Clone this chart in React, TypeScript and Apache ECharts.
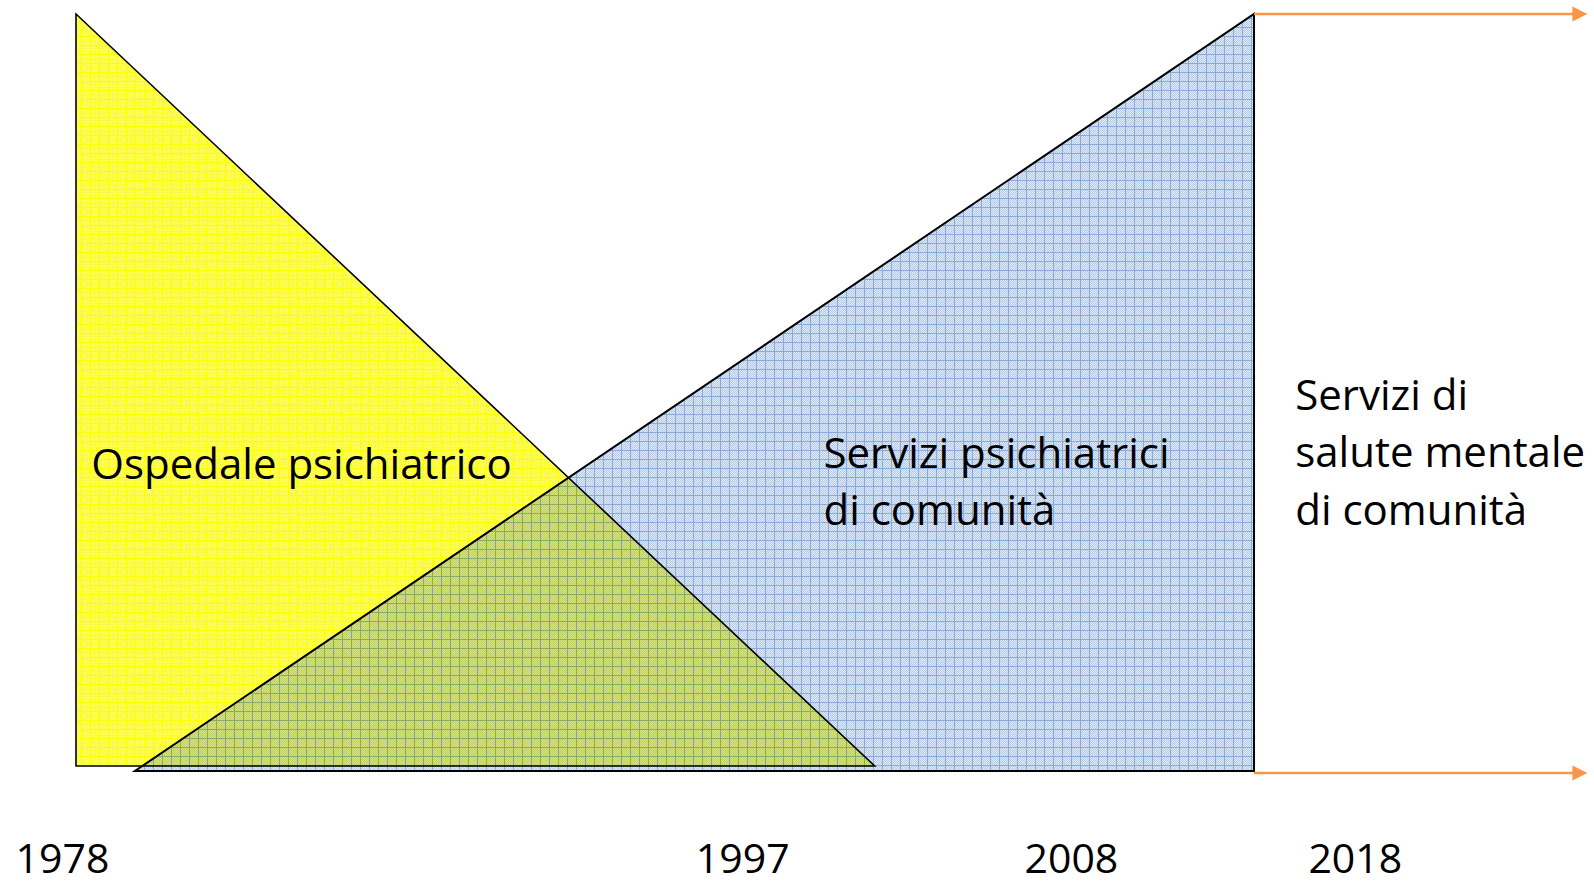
import React, { useEffect, useRef } from "react";
import * as echarts from "echarts";

// ---- Data (abstract timeline units: x 0 = start of 1978 block, 100 = end of community services block; y 0..100 = intensity) ----
const yellowX = [0, 0, 67.8];
const yellowY = [100, 0.66, 0.66];
const blueX = [5.0, 100, 100];
const blueY = [0, 0, 100];

const arrowStartX = [100, 100];
const arrowEndX = [128.3, 128.3];
const arrowY = [100, -0.25];

const yearLabels = ["1978", "1997", "2008", "2018"];
const yearX = [-1.15, 56.6, 84.5, 108.6];
const yearY = -11.4;

const textLines = [
  "Ospedale psichiatrico",
  "Servizi psichiatrici",
  "di comunità",
  "Servizi di",
  "salute mentale",
  "di comunità",
];
const textX = [1.3, 63.45, 63.45, 103.5, 103.5, 103.5];
const textY = [40.75, 42.2, 34.65, 49.84, 42.3, 34.7];

const FONT = "'Open Sans', Lato, sans-serif";

function makePattern(kind: "yellow" | "blue") {
  const c = document.createElement("canvas");
  const n = 9;
  c.width = n;
  c.height = n;
  const g = c.getContext("2d")!;
  for (let x = 0; x < n; x++) {
    for (let y = 0; y < n; y++) {
      const line = x === 0 || y === 0;
      let col: string;
      if (kind === "yellow") {
        col = line ? "#FFFF00" : (x + y) % 2 === 0 ? "#FFFF8C" : "#FFFF10";
      } else {
        col = line
          ? "rgba(40,100,190,0.55)"
          : (x + y) % 2 === 0
          ? "rgba(70,120,200,0.40)"
          : "rgba(120,160,220,0.22)";
      }
      g.fillStyle = col;
      g.fillRect(x, y, 1, 1);
    }
  }
  return { image: c, repeat: "repeat", imageWidth: n, imageHeight: n };
}

function polyRender(xs: number[], ys: number[], style: any) {
  return (params: any, api: any) => {
    const pts = xs.map((x, i) => api.coord([x, ys[i]]));
    return { type: "polygon", shape: { points: pts }, style };
  };
}

export default function App() {
  const ref = useRef<HTMLDivElement>(null);
  useEffect(() => {
    document.body.style.margin = "0";
    const chart = echarts.init(ref.current!, undefined, { renderer: "svg" });
    const yellowFill = makePattern("yellow");
    const blueFill = makePattern("blue");
    const option: any = {
      animation: false,
      backgroundColor: "#ffffff",
      grid: { left: 76, right: 340, top: 14, bottom: 110 },
      xAxis: { type: "value", min: 0, max: 100, show: false },
      yAxis: { type: "value", min: 0, max: 100, show: false },
      series: [
        {
          type: "custom",
          name: "Ospedale psichiatrico",
          data: [0],
          renderItem: polyRender(yellowX, yellowY, { fill: yellowFill }),
          z: 1,
        },
        {
          type: "custom",
          name: "Servizi psichiatrici di comunità",
          data: [0],
          renderItem: polyRender(blueX, blueY, { fill: blueFill }),
          z: 2,
        },
        {
          type: "custom",
          name: "outlines",
          data: [0, 1],
          renderItem: (params: any, api: any) => {
            const i = params.dataIndex;
            const xs = i === 0 ? yellowX : blueX;
            const ys = i === 0 ? yellowY : blueY;
            const pts = xs.map((x, k) => api.coord([x, ys[k]]));
            return {
              type: "polygon",
              shape: { points: pts },
              style: { fill: "none", stroke: "#000", lineWidth: i === 0 ? 1.6 : 2 },
            };
          },
          z: 3,
        },
        {
          type: "custom",
          name: "arrows",
          data: arrowY.map((y, i) => i),
          renderItem: (params: any, api: any) => {
            const i = params.dataIndex;
            const p0 = api.coord([arrowStartX[i], arrowY[i]]);
            const p1 = api.coord([arrowEndX[i], arrowY[i]]);
            const head = 15;
            return {
              type: "group",
              children: [
                {
                  type: "line",
                  shape: { x1: p0[0], y1: p0[1], x2: p1[0] - head + 1, y2: p1[1] },
                  style: { stroke: "#F79646", lineWidth: 2.5 },
                },
                {
                  type: "polygon",
                  shape: {
                    points: [
                      [p1[0], p1[1]],
                      [p1[0] - head, p1[1] - 7.5],
                      [p1[0] - head, p1[1] + 7.5],
                    ],
                  },
                  style: { fill: "#F79646" },
                },
              ],
            };
          },
          z: 4,
        },
        {
          type: "custom",
          name: "years",
          data: yearLabels.map((_, i) => i),
          renderItem: (params: any, api: any) => {
            const i = params.dataIndex;
            const p = api.coord([yearX[i], yearY]);
            return {
              type: "text",
              x: p[0],
              y: p[1],
              style: {
                text: yearLabels[i],
                fontFamily: FONT,
                fontSize: 41,
                fill: "#000",
                align: "center",
                verticalAlign: "middle",
              },
            };
          },
          z: 5,
        },
        {
          type: "custom",
          name: "texts",
          data: textLines.map((_, i) => i),
          renderItem: (params: any, api: any) => {
            const i = params.dataIndex;
            const p = api.coord([textX[i], textY[i]]);
            return {
              type: "text",
              x: p[0],
              y: p[1],
              style: {
                text: textLines[i],
                fontFamily: FONT,
                fontSize: 42,
                fill: "#000",
                align: "left",
                verticalAlign: "middle",
              },
            };
          },
          z: 5,
        },
      ],
    };
    chart.setOption(option);
    return () => chart.dispose();
  }, []);
  return (
    <div
      ref={ref}
      style={{ position: "fixed", left: 0, top: 0, width: 1594, height: 881, background: "#fff" }}
    />
  );
}
